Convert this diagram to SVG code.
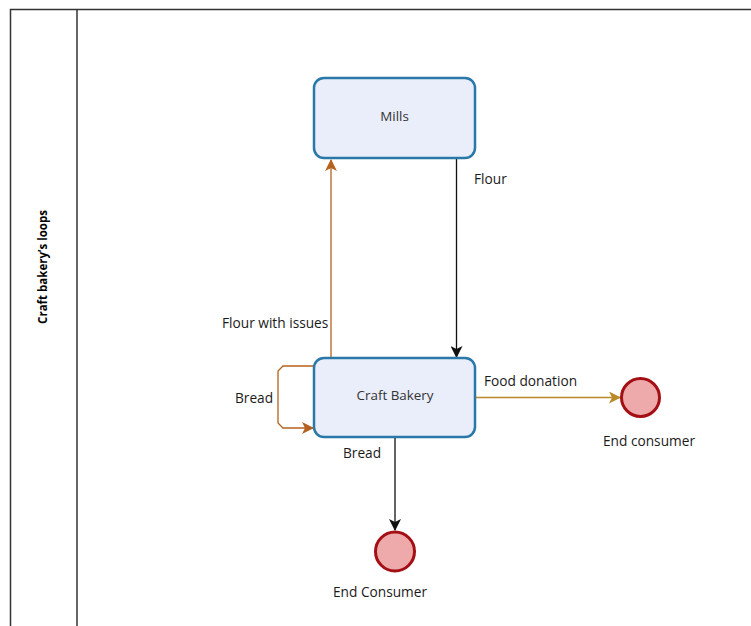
<svg xmlns="http://www.w3.org/2000/svg" width="751" height="626" viewBox="0 0 751 626">
<defs>
<style>
.pool{fill:none;stroke:#333;stroke-width:1.5}
.task{fill:#eaeefb;stroke:#2a78a8;stroke-width:2.5}
.end{fill:#eeaaaa;stroke:#a30f14;stroke-width:3}
.t{font-family:"Segoe UI","Open Sans","Noto Sans",sans-serif;font-size:13.7px;fill:#1a1a1a}
.tn{font-family:"Segoe UI","Open Sans","Noto Sans",sans-serif;font-size:13.4px;fill:#333;text-anchor:middle}
.lane{font-family:"Segoe UI","Open Sans","Noto Sans",sans-serif;font-size:11.5px;font-weight:bold;fill:#000;text-anchor:middle}
.blk{fill:none;stroke:#111;stroke-width:1.3}
.org{fill:none;stroke:#b5621f;stroke-width:1.3}
.gld{fill:none;stroke:#b88a2a;stroke-width:1.3}
</style>
<marker id="mb" viewBox="0 0 12 12" refX="11" refY="6" markerWidth="12" markerHeight="12" markerUnits="userSpaceOnUse" orient="auto"><path d="M0,0 L12,6 L0,12 L3,6 Z" fill="#111"/></marker>
<marker id="mo" viewBox="0 0 12 12" refX="11" refY="6" markerWidth="12" markerHeight="12" markerUnits="userSpaceOnUse" orient="auto"><path d="M0,0 L12,6 L0,12 L3,6 Z" fill="#b5621f"/></marker>
<marker id="mg" viewBox="0 0 12 12" refX="11" refY="6" markerWidth="12" markerHeight="12" markerUnits="userSpaceOnUse" orient="auto"><path d="M0,0 L12,6 L0,12 L3,6 Z" fill="#b88a2a"/></marker>
</defs>
<rect width="751" height="626" fill="#fff"/>
<g id="pool">
<path class="pool" d="M10.5,630 L10.5,9.5 L760,9.5"/>
<line class="pool" x1="77" y1="9.5" x2="77" y2="630"/>
<text class="lane" transform="translate(47,267) rotate(-90)">Craft bakery’s loops</text>
</g>
<g id="connectors">
<path class="blk" d="M456.5,159 L456.5,357" marker-end="url(#mb)"/>
<text class="t" x="474" y="184">Flour</text>
<path class="org" d="M331,358 L331,160" marker-end="url(#mo)"/>
<text class="t" x="222" y="328">Flour with issues</text>
<path class="org" d="M314,366 L283,366 L278,371 L278,423 L283,428 L313,428" marker-end="url(#mo)"/>
<text class="t" x="235" y="403">Bread</text>
<path class="gld" d="M476,397.5 L620,397.5" marker-end="url(#mg)"/>
<text class="t" x="484" y="386">Food donation</text>
<path class="blk" d="M395,437 L395,530" marker-end="url(#mb)"/>
<text class="t" x="343" y="458">Bread</text>
</g>
<g id="mills">
<rect class="task" x="314" y="78" width="161" height="80" rx="10"/>
<text class="tn" x="394.5" y="121">Mills</text>
</g>
<g id="craft-bakery">
<rect class="task" x="314" y="358" width="161" height="79" rx="10"/>
<text class="tn" x="395" y="400">Craft Bakery</text>
</g>
<g id="end-consumer-right">
<circle class="end" cx="640.5" cy="397.5" r="19"/>
<text class="t" x="649" y="446" text-anchor="middle">End consumer</text>
</g>
<g id="end-consumer-bottom">
<circle class="end" cx="395" cy="551.5" r="19.5"/>
<text class="t" x="380" y="597" text-anchor="middle">End Consumer</text>
</g>
</svg>
